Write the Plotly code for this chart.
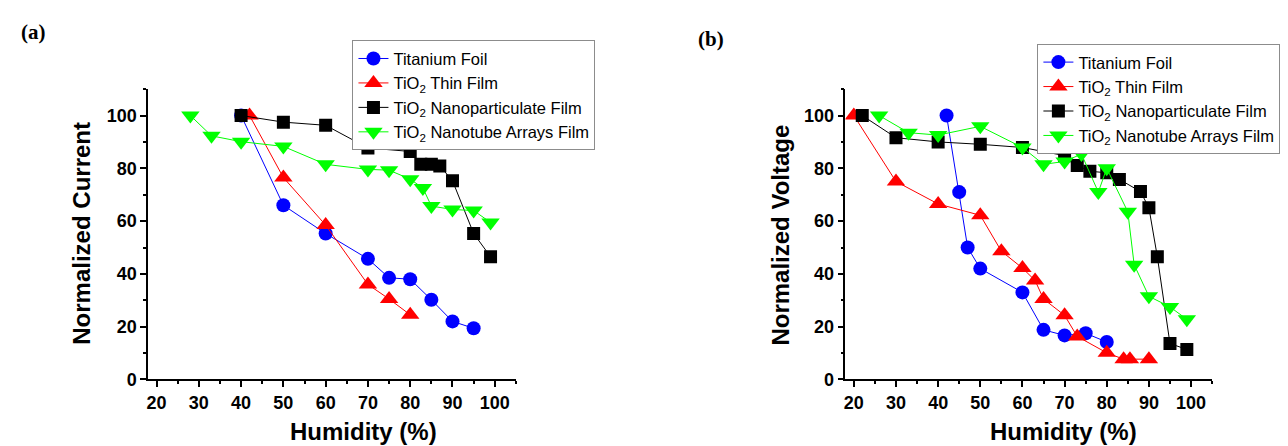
import plotly.graph_objects as go

# ---------------- data ----------------
x_ticks = [20, 30, 40, 50, 60, 70, 80, 90, 100]
y_ticks = [0, 20, 40, 60, 80, 100]

series_names = ["Titanium Foil", "TiO<sub>2</sub> Thin Film",
                "TiO<sub>2</sub> Nanoparticulate Film", "TiO<sub>2</sub> Nanotube Arrays Film"]

# Panel (a): Normalized current vs humidity
hum_a_foil = [40, 50, 60, 70, 75, 80, 85, 90, 95]
cur_a_foil = [100, 66, 55.3, 45.7, 38.5, 38, 30.2, 22, 19.4]
hum_a_thin = [42, 50, 60, 70, 75, 80]
cur_a_thin = [100, 76.5, 58.5, 36, 30.5, 24.5]
hum_a_np = [40, 50, 60, 70, 80, 82.5, 85, 87, 90, 95, 99]
cur_a_np = [100, 97.5, 96.3, 87.7, 86.4, 81.5, 81.5, 80.9, 75.3, 55.3, 46.5]
hum_a_nt = [28, 33, 40, 50, 60, 70, 75, 80, 83, 85, 90, 95, 99]
cur_a_nt = [100, 92.3, 90.1, 88.3, 81.5, 79.6, 79.3, 75.9, 72.5, 65.7, 64.4, 64, 59.5]

# Panel (b): Normalized voltage vs humidity
hum_b_foil = [42, 45, 47, 50, 60, 65, 70, 75, 80]
vol_b_foil = [100, 71, 50, 42, 33, 18.8, 16.7, 17.5, 14.2]
hum_b_thin = [20, 30, 40, 50, 55, 60, 63, 65, 70, 73, 80, 84, 85.5, 90]
vol_b_thin = [100, 75, 66.5, 62.2, 48.6, 42.2, 37.5, 30.5, 24.3, 16.3, 10.1, 7.7, 7.7, 7.7]
hum_b_np = [22, 30, 40, 50, 60, 70, 73, 76, 80, 83, 88, 90, 92, 95, 99]
vol_b_np = [100, 91.6, 90, 89.1, 87.9, 84.8, 81.1, 78.9, 78.3, 75.8, 71.2, 65.1, 46.5, 13.6, 11.4]
hum_b_nt = [26, 33, 40, 50, 60, 65, 70, 74, 78, 80, 85, 86.5, 90, 95, 99]
vol_b_nt = [100, 93.5, 92.6, 95.9, 87.9, 81.5, 82.6, 85.4, 71, 80, 63.5, 43.5, 31.5, 27.5, 22.8]

# ---------------- style ----------------
colors = ["#0000FF", "#FF0000", "#000000", "#00FF00"]
symbols = ["circle", "triangle-up", "square", "triangle-down"]
sizes = [14, 16, 13, 16]

W, H = 1288, 446
FONT = "Liberation Sans, Arial, sans-serif"

fig = go.Figure()

panel_a = [(hum_a_foil, cur_a_foil), (hum_a_thin, cur_a_thin),
           (hum_a_np, cur_a_np), (hum_a_nt, cur_a_nt)]
panel_b = [(hum_b_foil, vol_b_foil), (hum_b_thin, vol_b_thin),
           (hum_b_np, vol_b_np), (hum_b_nt, vol_b_nt)]

for i, (xs, ys) in enumerate(panel_a):
    fig.add_trace(go.Scatter(
        x=xs, y=ys, mode="lines+markers", name=series_names[i],
        line=dict(color=colors[i], width=1),
        marker=dict(symbol=symbols[i], size=sizes[i], color=colors[i], line=dict(width=0)),
        xaxis="x", yaxis="y", legend="legend"))

for i, (xs, ys) in enumerate(panel_b):
    fig.add_trace(go.Scatter(
        x=xs, y=ys, mode="lines+markers", name=series_names[i],
        line=dict(color=colors[i], width=1),
        marker=dict(symbol=symbols[i], size=sizes[i], color=colors[i], line=dict(width=0)),
        xaxis="x2", yaxis="y2", legend="legend2"))

tickfont = dict(family=FONT, size=18, color="black", weight="bold")


def xaxis(domain, anchor):
    return dict(domain=domain, anchor=anchor, range=[18, 105],
                tickmode="array", tickvals=x_ticks, ticktext=[str(t) for t in x_ticks],
                showline=True, linecolor="black", linewidth=1.5,
                ticks="outside", ticklen=6, tickwidth=1.5, tickcolor="black",
                minor=dict(tickmode="array", tickvals=[t + 5 for t in x_ticks],
                           ticks="outside", ticklen=3, tickwidth=1.5, tickcolor="black"),
                showgrid=False, zeroline=False, tickfont=tickfont)


def yaxis(domain, anchor):
    return dict(domain=domain, anchor=anchor, range=[0, 110],
                tickmode="array", tickvals=y_ticks, ticktext=[str(t) for t in y_ticks],
                showline=True, linecolor="black", linewidth=1.5,
                ticks="outside", ticklen=6, tickwidth=1.5, tickcolor="black",
                minor=dict(tickmode="array", tickvals=[t + 10 for t in y_ticks],
                           ticks="outside", ticklen=3, tickwidth=1.5, tickcolor="black"),
                showgrid=False, zeroline=False, tickfont=tickfont)


ydom = [1 - 380 / H, 1 - 83 / H]
legend_style = dict(xanchor="left", yanchor="top",
                    bordercolor="#8c8c8c", borderwidth=1, bgcolor="white",
                    font=dict(family=FONT, size=16.5, color="black"),
                    itemwidth=30, tracegroupgap=0)
fig.update_layout(
    width=W, height=H,
    margin=dict(l=0, r=0, t=0, b=0),
    plot_bgcolor="white", paper_bgcolor="white",
    xaxis=xaxis([138.3 / W, 506.7 / W], "y"),
    yaxis=yaxis(ydom, "x"),
    xaxis2=xaxis([836.7 / W, 1204 / W], "y2"),
    yaxis2=yaxis(ydom, "x2"),
    showlegend=True,
    legend=dict(x=343 / W, y=1 - 33 / H, **legend_style),
    legend2=dict(x=1029 / W, y=1 - 36.7 / H, **legend_style),
)

annos = [
    dict(text="<b>(a)</b>", x=24 / W, y=1 - 25 / H,
         font=dict(family="Liberation Serif, Times New Roman, serif", size=21, color="black")),
    dict(text="<b>(b)</b>", x=702 / W, y=1 - 32 / H,
         font=dict(family="Liberation Serif, Times New Roman, serif", size=21, color="black")),
    dict(text="<b>Humidity (%)</b>", x=354 / W, y=1 - 433 / H,
         font=dict(family=FONT, size=24, color="black")),
    dict(text="<b>Humidity (%)</b>", x=1055 / W, y=1 - 433 / H,
         font=dict(family=FONT, size=24, color="black")),
    dict(text="<b>Normalized Current</b>", x=72 / W, y=1 - 230 / H, textangle=-90,
         font=dict(family=FONT, size=24, color="black")),
    dict(text="<b>Normalized Voltage</b>", x=772 / W, y=1 - 232 / H, textangle=-90,
         font=dict(family=FONT, size=24, color="black")),
]
for a in annos:
    fig.add_annotation(xref="paper", yref="paper", showarrow=False,
                       xanchor="center", yanchor="middle", **a)

fig.write_html("out.html")
